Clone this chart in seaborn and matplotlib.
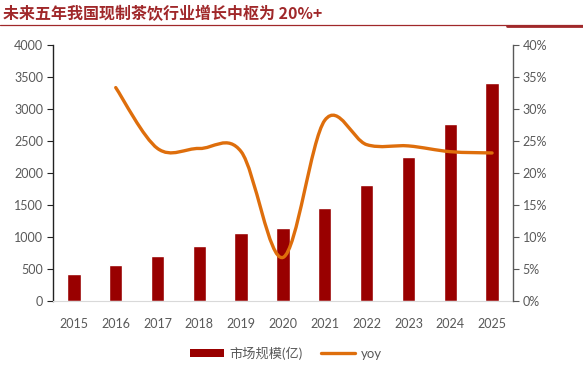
import matplotlib.pyplot as plt
import seaborn as sns
import numpy as np
from matplotlib.path import Path
from matplotlib.patches import PathPatch, Patch
from matplotlib.lines import Line2D
from matplotlib.ticker import FuncFormatter

# data
years = ["2015", "2016", "2017", "2018", "2019", "2020",
         "2021", "2022", "2023", "2024", "2025"]
market = [420, 560, 700, 865, 1063, 1136, 1455, 1807, 2245, 2760, 3400]
yoy = [np.nan, 33.3, 23.8, 23.8, 23.3, 6.8, 28.2, 24.4, 24.2, 23.3, 23.1]

title = "未来五年我国现制茶饮行业增长中枢为 20%+"
bar_label = "市场规模(亿)"
line_label = "yoy"

bar_color = "#990000"
line_color = "#DE6E0C"
tick_color = "#595959"

sns.set_style("white")
plt.rcParams["font.family"] = ["Lato", "Noto Sans CJK SC", "DejaVu Sans"]

fig = plt.figure(figsize=(5.83, 3.69), dpi=100)
ax = fig.add_axes([0.0909, 0.1843, 0.789, 0.6947])

sns.barplot(x=years, y=market, color=bar_color, saturation=1, width=0.32, ax=ax)
ax.set_xlim(-0.5, len(years) - 0.5)
ax.set_ylim(0, 4000)
ax.set_yticks(range(0, 4001, 500))
ax.set_xlabel("")
ax.set_ylabel("")

ax2 = ax.twinx()
ax2.set_ylim(0, 40)
ax2.set_yticks(range(0, 41, 5))
ax2.yaxis.set_major_formatter(FuncFormatter(lambda v, p: f"{int(v)}%"))

# smoothed yoy line (Catmull-Rom as bezier segments, like Excel's smooth line)
pts = np.array([(i, v) for i, v in enumerate(yoy) if not np.isnan(v)], dtype=float)
n = len(pts)
verts = [tuple(pts[0])]
codes = [Path.MOVETO]
for i in range(n - 1):
    p0 = pts[i - 1] if i > 0 else pts[i]
    p1, p2 = pts[i], pts[i + 1]
    p3 = pts[i + 2] if i + 2 < n else pts[i + 1]
    c1 = p1 + (p2 - p0) / 6
    c2 = p2 - (p3 - p1) / 6
    verts += [tuple(c1), tuple(c2), tuple(p2)]
    codes += [Path.CURVE4] * 3
ax2.add_patch(PathPatch(Path(verts, codes), fill=False, edgecolor=line_color,
                        lw=2.4, capstyle="round", zorder=5))

for a in (ax, ax2):
    for s in a.spines.values():
        s.set_visible(False)
    a.grid(False)
ax.spines["left"].set_visible(True)
ax.spines["left"].set_color("#222222")
ax.spines["left"].set_linewidth(1.0)
ax.spines["bottom"].set_visible(True)
ax.spines["bottom"].set_color("#D9D9D9")
ax.spines["bottom"].set_linewidth(0.8)
ax2.spines["right"].set_visible(True)
ax2.spines["right"].set_color("#595959")
ax2.spines["right"].set_linewidth(1.0)

ax.tick_params(axis="y", left=True, direction="out", length=4, width=0.8,
               color="#222222", labelsize=9, labelcolor=tick_color, pad=3)
ax.tick_params(axis="x", bottom=False, labelsize=9, labelcolor=tick_color, pad=9)
ax2.tick_params(axis="y", right=True, direction="out", length=4, width=0.8,
                color="#595959", labelsize=9, labelcolor=tick_color, pad=3)

handles = [Patch(facecolor=bar_color, edgecolor="none", label=bar_label),
           Line2D([], [], color=line_color, lw=2.4, label=line_label)]
fig.legend(handles=handles, loc="center", bbox_to_anchor=(0.49, 0.043), ncol=2,
           frameon=False, fontsize=9.5, handlelength=2.6, handleheight=0.6,
           columnspacing=1.4, handletextpad=0.4, labelcolor=tick_color)

fig.text(0.006, 0.962, title, fontsize=11.5, fontweight="bold", color="#A0282A",
         family=["Noto Sans CJK SC", "DejaVu Sans"], va="center", ha="left")
fig.add_artist(Line2D([0, 1], [0.932, 0.932], transform=fig.transFigure,
                      color="#A0282A", lw=0.9))
fig.add_artist(Line2D([0.87, 1], [0.929, 0.929], transform=fig.transFigure,
                      color="#A0282A", lw=2.0))

fig.savefig("out.png", dpi=100)
